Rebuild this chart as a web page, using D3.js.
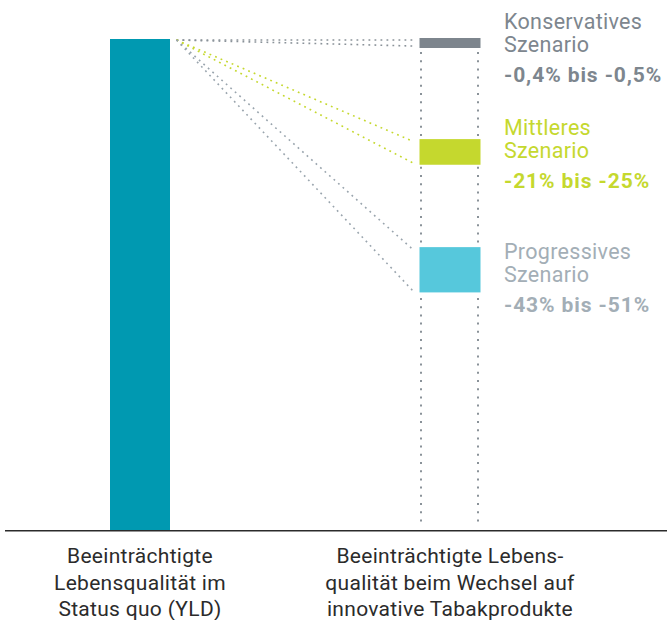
<!DOCTYPE html>
<html>
<head>
<meta charset="utf-8">
<script src="https://cdn.jsdelivr.net/npm/d3@7"></script>
<style>
  body { margin: 0; background: #fff; }
  svg { display: block; font-family: Roboto, "Noto Sans", sans-serif; }
</style>
</head>
<body>
<div id="chart"></div>
<script>
const width = 667, height = 620;

// données
const categories = ["statusQuo", "wechsel"];
const categoryLabels = [
    ["Beeinträchtigte", "Lebensqualität im", "Status quo (YLD)"],
    ["Beeinträchtigte Lebens-", "qualität beim Wechsel auf", "innovative Tabakprodukte"]
];
const statusQuoValue = 100;
const scenarioNames = ["Konservatives", "Mittleres", "Progressives"];
const reductionLow = [0.4, 21, 43];
const reductionHigh = [0.5, 25, 51];
const valueLabels = ["-0,4% bis -0,5%", "-21% bis -25%", "-43% bis -51%"];

// mise en forme
const scenarioColors = ["#7d858d", "#c5d82e", "#56c8dc"];
const textColors = ["#7d868e", "#c5d82e", "#a3aeb6"];
const lineColors = ["#8a9299", "#c5d82e", "#99a4ad"];
const labelBaseline = [29, 135, 259];
const barWidth = 61, minBarHeight = 10, barPad = 3;

const svg = d3.select("#chart").append("svg")
    .attr("width", width)
    .attr("height", height);

const x = d3.scalePoint()
    .domain(categories)
    .range([140, 450]);

const y = d3.scaleLinear()
    .domain([0, 100])
    .range([530, 39]);

const scenarios = scenarioNames.map((name, i) => {
    let top = y(statusQuoValue - reductionLow[i]) - barPad;
    let bottom = y(statusQuoValue - reductionHigh[i]) + barPad;
    if (bottom - top < minBarHeight) { top = y(statusQuoValue) - 1; bottom = top + minBarHeight; }
    return {name: name, value: valueLabels[i], top: top, bottom: bottom, i: i};
});

const xr = x("wechsel") - barWidth / 2;

// colonne pointillée
[xr + 1.5, xr + barWidth - 2.5].forEach(px => {
    svg.append("line")
        .attr("x1", px).attr("x2", px)
        .attr("y1", y(statusQuoValue) + 13).attr("y2", y(0) - 5)
        .attr("stroke", "#8a9299")
        .attr("stroke-width", 2)
        .attr("stroke-dasharray", "2,6.2");
});

// lignes de liaison
const ox = x("statusQuo") + barWidth / 2 + 6, oy = y(statusQuoValue) + 1;
scenarios.forEach(s => {
    [s.top + 2, s.bottom - 2].forEach((ty, k) => {
        svg.append("line")
            .attr("x1", ox).attr("y1", oy)
            .attr("x2", xr - 7).attr("y2", (s.i === 0 && k === 0) ? oy : ty)
            .attr("stroke", lineColors[s.i])
            .attr("stroke-width", 1.6)
            .attr("stroke-dasharray", "1.8,4.2");
    });
});

// barre status quo
svg.append("rect")
    .attr("x", x("statusQuo") - 30)
    .attr("width", 60)
    .attr("y", y(statusQuoValue))
    .attr("height", y(0) - y(statusQuoValue))
    .attr("fill", "#0099b1");

// barres scénarios
svg.selectAll("rect.scen")
    .data(scenarios)
    .enter().append("rect")
    .attr("class", "scen")
    .attr("x", xr)
    .attr("width", barWidth)
    .attr("y", d => d.top)
    .attr("height", d => d.bottom - d.top)
    .attr("fill", d => scenarioColors[d.i]);

// ligne de base
svg.append("line")
    .attr("x1", 5).attr("x2", width)
    .attr("y1", y(0) + 0.7).attr("y2", y(0) + 0.7)
    .attr("stroke", "#2b2b2b")
    .attr("stroke-width", 1.4);

// libellés des scénarios
const lab = svg.selectAll("g.lab")
    .data(scenarios)
    .enter().append("g")
    .attr("class", "lab")
    .attr("transform", d => "translate(504," + labelBaseline[d.i] + ")")
    .style("fill", d => textColors[d.i]);

lab.append("text").style("font-size", "21.5px").style("letter-spacing", "0.3px").text(d => d.name);
lab.append("text").attr("y", 23).style("font-size", "21.5px").style("letter-spacing", "0.3px").text("Szenario");
lab.append("text").attr("y", 53).style("font-size", "21px").style("font-weight", "bold")
    .style("letter-spacing", "0.9px").text(d => d.value);

// libellés des catégories
categories.forEach((c, i) => {
    svg.append("text")
        .attr("x", x(c))
        .attr("text-anchor", "middle")
        .style("font-size", "21px")
        .style("letter-spacing", "0.3px")
        .style("fill", "#2b2b2b")
        .selectAll("tspan")
        .data(categoryLabels[i])
        .enter().append("tspan")
        .attr("x", x(c))
        .attr("y", (d, j) => 563 + j * 26.5)
        .text(d => d);
});
</script>
</body>
</html>
